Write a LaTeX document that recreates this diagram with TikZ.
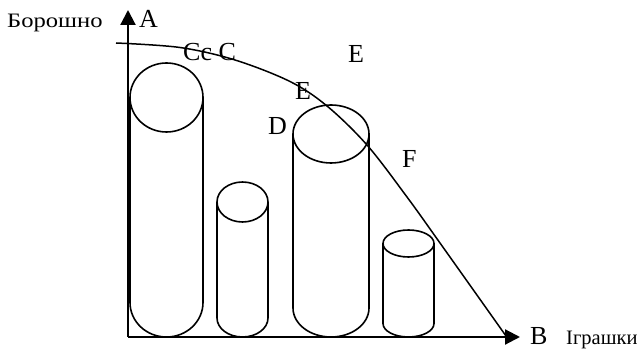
\documentclass[tikz,border=0pt]{standalone}
\usepackage{fontspec}
\setmainfont{Liberation Serif}
\usetikzlibrary{arrows.meta}
\begin{document}
\begin{tikzpicture}[x=1pt,y=-1pt,
  axis/.style={line width=2.2pt,-{Triangle[length=15pt,width=15pt]}},
  cyl/.style={line width=1.6pt},
  ppf/.style={line width=1.5pt},
  letter/.style={anchor=base west,inner sep=0pt,font=\fontsize{26}{30}\selectfont},
  word/.style={anchor=base west,inner sep=0pt,font=\fontsize{20.5}{24}\selectfont}]
\useasboundingbox (0,0) rectangle (640,352);
\coordinate (O) at (128,337);
\coordinate (Atip) at (128,10);
\coordinate (Btip) at (520,337);
% axes
\draw[axis] (O) -- (Atip);
\draw[axis] (O) -- (Btip);
% cylinders: center x, rx, top y, top ry, bottom y, bottom ry
\foreach \cx/\rx/\ty/\try/\by/\bry in {166.5/36.5/97.5/34.5/302.5/34.5, 242.5/25.5/202/20/318/19, 331/38/134/29/308/29, 408.5/25.5/243.5/13.5/323.5/13.5}{
  \draw[cyl] (\cx,\ty) ellipse [x radius=\rx, y radius=\try];
  \draw[cyl] (\cx-\rx,\ty) -- (\cx-\rx,\by) arc[start angle=180,end angle=360,x radius=\rx,y radius=-\bry] -- (\cx+\rx,\ty);
}
% production possibility curve
\draw[ppf] plot[smooth,tension=0.55] coordinates {(116,43) (180,47.5) (235,60) (290,81.5) (327,106) (367,145) (407,197) (440,243) (506,336)};
% labels
\node[word] (lflour) at (7,28) {\scalebox{1.2}[1]{Борошно}};
\node[letter] (lA) at (139,28) {A};
\node[letter] (lB) at (530,345) {B};
\node[word] (ltoys) at (566,345) {Іграшки};
\node[letter] (lC) at (183,61) {Cc C};
\node[letter] (lE1) at (348,63) {E};
\node[letter] (lE2) at (295,100) {E};
\node[letter] (lD) at (268,135) {D};
\node[letter] (lF) at (402,168) {F};
\end{tikzpicture}
\end{document}
